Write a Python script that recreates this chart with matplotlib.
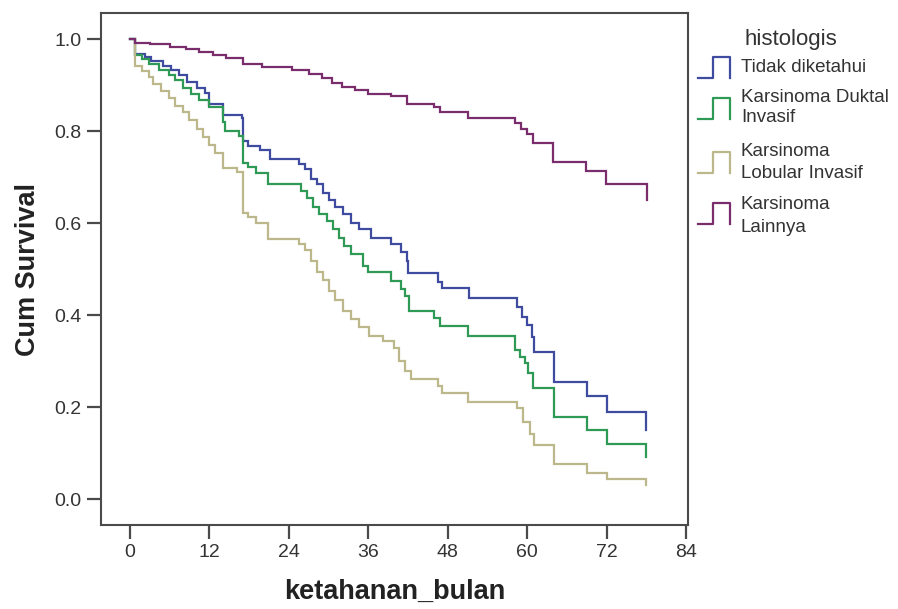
import matplotlib
matplotlib.use("Agg")
import matplotlib.pyplot as plt
from matplotlib.lines import Line2D

plt.rcParams['font.family'] = ['Liberation Sans', 'DejaVu Sans']

# ---- data ----
series_names = ["Tidak diketahui", "Karsinoma Duktal\nInvasif",
                "Karsinoma\nLobular Invasif", "Karsinoma\nLainnya"]

t_tidak = [0, 0.8, 2.2, 3.2, 5.0, 6.2, 7.4, 8.6, 10.1, 11.3, 12.0, 14.1, 16.9, 17.1,
           17.9, 19.7, 21.1, 25.6, 26.5, 27.4, 28.3, 29.2, 30.1, 31.0, 32.2, 33.4,
           34.6, 36.4, 39.4, 40.9, 41.8, 42.0, 46.5, 47.1, 51.2, 58.4, 59.3, 60.0,
           60.8, 61.1, 64.0, 69.0, 72.0, 78.0]
s_tidak = [1.0, 0.969, 0.961, 0.953, 0.942, 0.934, 0.922, 0.907, 0.895, 0.884, 0.860,
           0.836, 0.828, 0.778, 0.767, 0.759, 0.740, 0.728, 0.717, 0.697, 0.686, 0.666,
           0.651, 0.635, 0.620, 0.600, 0.588, 0.569, 0.554, 0.538, 0.519, 0.491, 0.472,
           0.460, 0.437, 0.418, 0.396, 0.378, 0.353, 0.321, 0.256, 0.224, 0.190, 0.150]

t_duktal = [0, 0.8, 1.8, 2.9, 4.4, 5.9, 6.8, 8.0, 9.2, 10.4, 11.9, 14.0, 14.3, 16.4,
            17.0, 17.9, 19.1, 20.9, 25.8, 26.8, 27.7, 28.6, 29.7, 30.7, 31.6, 32.3,
            33.4, 35.2, 35.9, 39.5, 40.9, 41.6, 42.2, 46.0, 46.8, 51.0, 58.2, 58.9,
            59.7, 60.2, 60.9, 64.0, 69.0, 72.0, 78.0]
s_duktal = [1.0, 0.965, 0.957, 0.946, 0.934, 0.922, 0.911, 0.895, 0.880, 0.868, 0.852,
            0.820, 0.800, 0.790, 0.732, 0.722, 0.710, 0.685, 0.670, 0.655, 0.636, 0.620,
            0.604, 0.588, 0.569, 0.551, 0.534, 0.507, 0.495, 0.475, 0.457, 0.441, 0.410,
            0.394, 0.377, 0.354, 0.325, 0.310, 0.296, 0.274, 0.241, 0.179, 0.150, 0.121,
            0.093]

t_lobular = [0, 0.8, 1.8, 2.9, 3.5, 4.7, 5.9, 6.8, 8.0, 8.9, 10.1, 11.0, 11.9, 12.8,
             14.0, 16.1, 17.0, 17.9, 19.1, 20.8, 25.6, 26.5, 27.4, 28.3, 29.2, 30.1,
             31.0, 32.2, 33.4, 34.6, 36.1, 38.2, 39.9, 40.6, 41.5, 42.4, 46.5, 47.1,
             51.0, 58.5, 59.4, 60.5, 61.1, 64.0, 69.0, 72.0, 78.0]
s_lobular = [1.0, 0.942, 0.932, 0.918, 0.903, 0.887, 0.872, 0.856, 0.841, 0.825, 0.806,
             0.787, 0.771, 0.752, 0.720, 0.711, 0.623, 0.614, 0.600, 0.566, 0.556, 0.542,
             0.519, 0.495, 0.476, 0.453, 0.433, 0.410, 0.391, 0.375, 0.356, 0.344, 0.328,
             0.301, 0.278, 0.262, 0.247, 0.231, 0.212, 0.198, 0.169, 0.143, 0.119, 0.077,
             0.058, 0.045, 0.031]

t_lainnya = [0, 0.8, 3.0, 6.0, 8.5, 10.5, 12.5, 14.5, 17.0, 20.0, 24.5, 27.0, 29.0,
             30.5, 32.0, 34.0, 36.0, 39.5, 41.8, 46.0, 46.8, 51.0, 58.2, 59.1, 60.0,
             60.9, 63.9, 68.9, 71.9, 78.1]
s_lainnya = [1.0, 0.993, 0.989, 0.984, 0.978, 0.972, 0.965, 0.959, 0.946, 0.940, 0.934,
             0.924, 0.915, 0.906, 0.897, 0.889, 0.882, 0.876, 0.860, 0.852, 0.841, 0.829,
             0.818, 0.806, 0.794, 0.775, 0.734, 0.713, 0.686, 0.651]

x_ticks = [0, 12, 24, 36, 48, 60, 72, 84]
y_ticks = [0.0, 0.2, 0.4, 0.6, 0.8, 1.0]

colors = ["#3f4b9e", "#2f9a55", "#bdb78c", "#7a2d6c"]
times = [t_tidak, t_duktal, t_lobular, t_lainnya]
survs = [s_tidak, s_duktal, s_lobular, s_lainnya]

# ---- figure ----
W, H = 898, 609
fig = plt.figure(figsize=(W / 100, H / 100), dpi=100)
fig.patch.set_facecolor("white")
ax = fig.add_axes([101 / W, 1 - 525 / H, (687.7 - 101) / W, (525 - 13.3) / H])
ax.set_facecolor("white")

for t, s, c in zip(times, survs, colors):
    ax.step(t, s, where="post", color=c, lw=1.6, solid_joinstyle="miter")

ax.set_xlim(-4.38, 84.26)
ax.set_ylim(-0.0559, 1.0565)
ax.set_xticks(x_ticks)
ax.set_xticklabels([str(v) for v in x_ticks])
ax.set_yticks(y_ticks)
ax.set_yticklabels([f"{v:.1f}" for v in y_ticks])

for sp in ax.spines.values():
    sp.set_color("#4a4a4a")
    sp.set_linewidth(1.5)
ax.tick_params(direction="out", length=10, width=1.6, color="#4a4a4a",
               labelsize=14, labelcolor="#333333", pad=4)

ax.set_xlabel("ketahanan_bulan", fontsize=19.5, fontweight="bold", color="#222222")
ax.set_ylabel("Cum Survival", fontsize=19.5, fontweight="bold", color="#222222")
ax.xaxis.set_label_coords(0.5, -0.105)
ax.yaxis.set_label_coords(-0.102, 0.5)

# ---- legend (drawn by hand to mimic SPSS) ----
def fx(px):
    return px / W

def fy(py):
    return 1 - py / H

fig.text(fx(745), fy(40), "histologis", fontsize=16, color="#333333",
         ha="left", va="center")

sym_tops = [57, 98, 152, 203]
text_rows = [[68], [97, 118], [151, 173], [205, 227]]
labels_lines = [n.split("\n") for n in series_names]
for top, rows, lines, c in zip(sym_tops, text_rows, labels_lines, colors):
    bot = top + 21
    xs = [698, 713, 713, 730, 730]
    ys = [bot, bot, top, top, bot]
    fig.add_artist(Line2D([fx(v) for v in xs], [fy(v) for v in ys],
                          color=c, lw=1.6, transform=fig.transFigure))
    for r, line in zip(rows, lines):
        fig.text(fx(741), fy(r), line, fontsize=13.5, color="#333333",
                 ha="left", va="center")

fig.savefig("out.png", dpi=100)
